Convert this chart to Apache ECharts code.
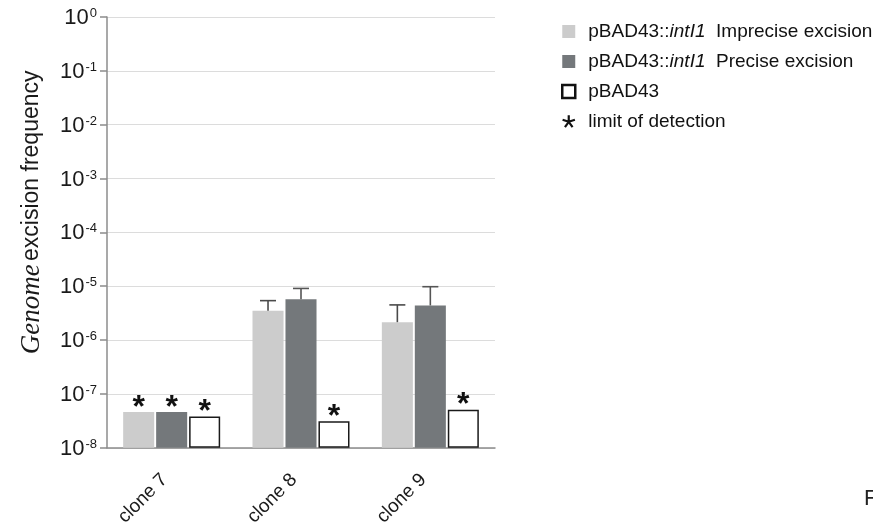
<!DOCTYPE html>
<html>
<head>
<meta charset="utf-8">
<script src="https://cdn.jsdelivr.net/npm/echarts@6/dist/echarts.min.js"></script>
<style>
html,body{margin:0;padding:0;background:#fff;}
#chart{width:873px;height:529px;}
</style>
</head>
<body>
<div id="chart"></div>
<script>
// ---- data ----
const categories = ['clone 7', 'clone 8', 'clone 9'];
const seriesNames = ['pBAD43::intI1 Imprecise excision', 'pBAD43::intI1 Precise excision', 'pBAD43'];
const impreciseValues = [4.6e-8, 3.5e-6, 2.15e-6];
const impreciseErrUpper = [null, 5.4e-6, 4.5e-6];
const impreciseLimit = [true, false, false];
const preciseValues = [4.6e-8, 5.7e-6, 4.4e-6];
const preciseErrUpper = [null, 9.1e-6, 9.8e-6];
const preciseLimit = [true, false, false];
const emptyValues = [3.8e-8, 3.1e-8, 5.1e-8];
const emptyErrUpper = [null, null, null];
const emptyLimit = [true, true, true];
const limitName = 'limit of detection';
const yMin = 1e-8, yMax = 1;

const FONT = 'Liberation Sans, Arial, sans-serif';
const chart = echarts.init(document.getElementById('chart'), null, {renderer: 'canvas'});

const groups = [
  {name: seriesNames[0], values: impreciseValues, err: impreciseErrUpper, limit: impreciseLimit, offset: -1,
   fill: '#cccccc', stroke: null, errColor: '#4a4a4a'},
  {name: seriesNames[1], values: preciseValues, err: preciseErrUpper, limit: preciseLimit, offset: 0,
   fill: '#74787b', stroke: null, errColor: '#555'},
  {name: seriesNames[2], values: emptyValues, err: emptyErrUpper, limit: emptyLimit, offset: 1,
   fill: '#ffffff', stroke: '#1a1a1a', errColor: '#333'}
];

function geom(api, ci, v, offset) {
  const c0 = api.coord([0, yMin]);
  const c1 = api.coord([1, yMin]);
  const band = c1[0] - c0[0];
  const bw = band * 0.24, step = band * 0.255;
  const top = api.coord([ci, v]);
  const base = api.coord([ci, yMin]);
  return {cx: top[0] + offset * step, top: top[1], base: base[1], bw: bw};
}

function barRender(g) {
  return function (params, api) {
    const ci = api.value(0), v = api.value(1), e = api.value(2);
    const gm = geom(api, ci, v, g.offset);
    const children = [];
    const sw = g.stroke ? 1.5 : 0;
    children.push({
      type: 'rect',
      shape: {x: gm.cx - gm.bw / 2 + sw / 2, y: gm.top + sw / 2, width: gm.bw - sw, height: gm.base - gm.top - sw},
      style: {fill: g.fill, stroke: g.stroke || null, lineWidth: sw}
    });
    if (e && !isNaN(e)) {
      const ey = api.coord([ci, e])[1];
      children.push({type: 'line', shape: {x1: gm.cx, y1: gm.top, x2: gm.cx, y2: ey},
        style: {stroke: g.errColor, lineWidth: 1.6}});
      children.push({type: 'line', shape: {x1: gm.cx - 8, y1: ey, x2: gm.cx + 8, y2: ey},
        style: {stroke: g.errColor, lineWidth: 1.6}});
    }
    return {type: 'group', children: children};
  };
}

const series = groups.map(g => ({
  type: 'custom',
  name: g.name,
  itemStyle: {color: g.fill},
  renderItem: barRender(g),
  encode: {x: 0, y: 1},
  data: categories.map((c, i) => [i, g.values[i], g.err[i] == null ? NaN : g.err[i]])
}));

// asterisks for values at the limit of detection
const starData = [];
groups.forEach(g => g.values.forEach((v, i) => { if (g.limit[i]) starData.push([i, v, g.offset]); }));
series.push({
  type: 'custom',
  name: limitName,
  itemStyle: {color: '#111'},
  encode: {x: 0, y: 1},
  data: starData,
  renderItem: function (params, api) {
    const gm = geom(api, api.value(0), api.value(1), api.value(2));
    return {type: 'text', x: gm.cx, y: gm.top + 12,
      style: {text: '*', fontSize: 32, fontWeight: 'bold', fontFamily: FONT, fill: '#111',
        align: 'center', verticalAlign: 'bottom'}};
  }
});

// asterisk legend icon path
function starPath() {
  let d = '';
  const L = 10, w = 1.7;
  for (let k = 0; k < 5; k++) {
    const a = (-90 + 72 * k) * Math.PI / 180;
    const dx = Math.cos(a), dy = Math.sin(a), px = -dy * w, py = dx * w;
    const pts = [[px, py], [dx * L + px, dy * L + py], [dx * L - px, dy * L - py], [-px, -py]];
    d += 'M' + pts.map(p => (p[0] + 12).toFixed(2) + ' ' + (p[1] + 12).toFixed(2)).join(' L') + ' Z ';
  }
  return 'path://' + d;
}

const option = {
  animation: false,
  backgroundColor: '#fff',
  grid: {left: 107, right: 378, top: 17, bottom: 80, containLabel: false},
  legend: {
    orient: 'vertical', left: 556, top: 17, itemGap: 11, itemWidth: 13, itemHeight: 13,
    selectedMode: false,
    data: [
      {name: seriesNames[0], icon: 'rect', itemStyle: {color: '#cccccc'}},
      {name: seriesNames[1], icon: 'rect', itemStyle: {color: '#74787b'}},
      {name: seriesNames[2], icon: 'rect', itemStyle: {color: '#fff', borderColor: '#111', borderWidth: 2.5}},
      {name: limitName, icon: starPath(), itemStyle: {color: '#111'}}
    ],
    formatter: function (name) {
      if (name.indexOf('pBAD43::intI1') === 0) {
        return '{n|pBAD43::}{i|intI1}{n|  ' + name.slice(14) + '}';
      }
      return '{n|' + name + '}';
    },
    textStyle: {
      padding: [0, 0, 0, 8],
      rich: {
        n: {fontSize: 19, fontFamily: FONT, color: '#111', lineHeight: 22},
        i: {fontSize: 19, fontFamily: FONT, color: '#111', fontStyle: 'italic', lineHeight: 22}
      }
    }
  },
  xAxis: {
    type: 'category', data: categories,
    axisLine: {lineStyle: {color: '#8c8c8c', width: 1.5}},
    axisTick: {alignWithLabel: true, length: 7, lineStyle: {color: '#8c8c8c', width: 1.5}},
    axisLabel: {rotate: 45, fontSize: 19, fontFamily: FONT, color: '#1a1a1a', margin: 22, padding: [0, 10, 0, 0]},
    splitLine: {show: false}
  },
  yAxis: {
    type: 'log', logBase: 10, min: yMin, max: yMax,
    axisLine: {show: true, lineStyle: {color: '#8c8c8c', width: 1.5}},
    axisTick: {show: true, length: 7, lineStyle: {color: '#8c8c8c', width: 1.5}},
    splitLine: {show: true, lineStyle: {color: '#dcdcdc', width: 1.2}},
    minorTick: {show: false},
    axisLabel: {
      margin: 10,
      formatter: function (v) {
        const e = Math.round(Math.log10(v));
        return '{b|10}{s|' + e + '}';
      },
      rich: {
        b: {fontSize: 22, fontFamily: FONT, color: '#1a1a1a', lineHeight: 24, verticalAlign: 'bottom'},
        s: {fontSize: 13, fontFamily: FONT, color: '#1a1a1a', lineHeight: 24, verticalAlign: 'top', padding: [2, 0, 8, 1]}
      }
    },
    name: '{g|Genome} {t|excision frequency}',
    nameLocation: 'middle', nameGap: 62, nameRotate: 90,
    nameTextStyle: {
      padding: [0, 0, 0, 40],
      rich: {
        g: {fontSize: 27, fontFamily: 'Liberation Serif, Times New Roman, serif', fontStyle: 'italic', color: '#1a1a1a'},
        t: {fontSize: 23, fontFamily: FONT, color: '#1a1a1a'}
      }
    }
  },
  graphic: [
    {type: 'text', left: 864, top: 488, style: {text: 'F', fontSize: 22, fontFamily: FONT, fill: '#222'}}
  ],
  series: series
};
chart.setOption(option);
</script>
</body>
</html>
